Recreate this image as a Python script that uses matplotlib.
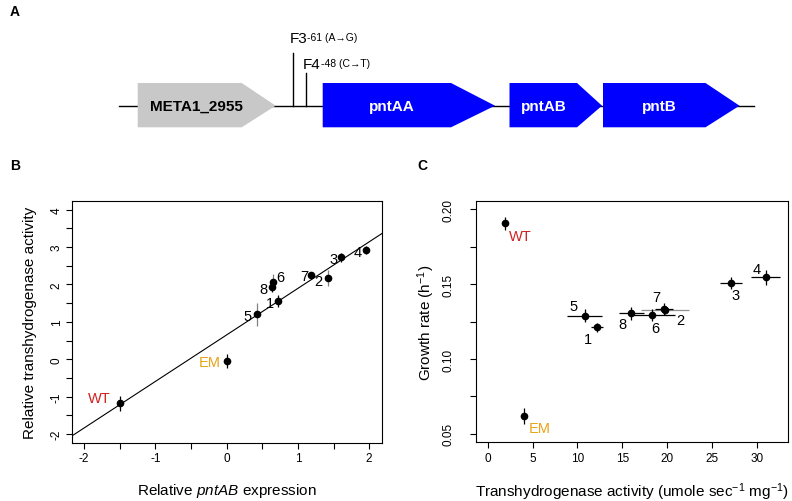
import matplotlib
matplotlib.use("Agg")
import matplotlib.pyplot as plt
from matplotlib.patches import Polygon

plt.rcParams['font.family'] = ['Liberation Sans', 'DejaVu Sans']
plt.rcParams['mathtext.fontset'] = 'custom'
plt.rcParams['mathtext.rm'] = 'Liberation Sans'
plt.rcParams['mathtext.it'] = 'Liberation Sans:italic'
plt.rcParams['mathtext.bf'] = 'Liberation Sans:bold'
plt.rcParams['axes.unicode_minus'] = False

# ---------------- data ----------------
# Panel A: gene map (pixel layout of the schematic)
gene_names = ["META1_2955", "pntAA", "pntAB", "pntB"]
gene_start = [137.7, 322.7, 509.5, 603.0]
gene_shoulder = [241.7, 451.0, 577.0, 705.5]
gene_end = [275.7, 495.0, 602.0, 739.5]
gene_label_x = [196.0, 391.5, 543.7, 659.6]
gene_colors = ["#c8c8c8", "#0000ff", "#0000ff", "#0000ff"]
gene_text_colors = ["black", "white", "white", "white"]
mut_names = ["F3", "F4"]
mut_sup = ["-61 (A\u2192G)", "-48 (C\u2192T)"]
mut_x = [292.7, 306.0]

# Panel B/C strains
strains = ["WT", "EM", "1", "2", "3", "4", "5", "6", "7", "8"]
rel_expr = [-1.5, 0.0, 0.715, 1.42, 1.60, 1.95, 0.42, 0.655, 1.19, 0.633]
rel_act = [-1.18, -0.05, 1.55, 2.17, 2.72, 2.92, 1.20, 2.07, 2.24, 1.93]
rel_act_err = [0.20, 0.19, 0.16, 0.22, 0.13, 0.10, 0.31, 0.22, 0.07, 0.13]
fit_intercept = 0.65
fit_slope = 1.244

act = [1.9, 4.1, 12.2, 19.8, 27.1, 31.0, 10.8, 18.35, 19.7, 16.0]
act_err = [0.25, 0.3, 0.7, 2.7, 1.25, 1.6, 2.0, 2.5, 1.0, 1.4]
growth = [0.1905, 0.0618, 0.121, 0.1325, 0.1505, 0.1545, 0.129, 0.1295, 0.1335, 0.1305]
growth_err = [0.0045, 0.0055, 0.003, 0.003, 0.004, 0.005, 0.0045, 0.004, 0.004, 0.0045]

# ---------------- styles ----------------
label_colors = {"WT": "#d02020", "EM": "#e8a317"}
b_err_col = {"5": "#808080", "2": "#808080", "6": "#808080"}
c_err_col = {"2": "#909090"}
b_off = {"WT": ("right", -9, 5), "EM": ("right", -6, -1), "5": ("right", -5, -2),
         "1": ("right", -3.7, -2), "8": ("right", -4.6, -1.7), "6": ("left", 2.7, 4.7),
         "7": ("right", -2.7, -0.7), "2": ("right", -5, -2.7), "3": ("right", -3.4, -2),
         "4": ("right", -4, -1.7)}
c_off = {"WT": ("left", 4.3, -12.4), "EM": ("left", 4, -11.6), "5": ("right", -7, 10),
         "1": ("right", -4.6, -11.7), "8": ("right", -5, -11), "6": ("center", 3, -13.3),
         "7": ("center", -7.8, 11.7), "2": ("left", 10.8, -10), "3": ("center", 5, -12),
         "4": ("center", -9, 8.5)}

W, H = 792, 502
fig = plt.figure(figsize=(W / 100, H / 100), dpi=100)

# ---------------- Panel A ----------------
axA = fig.add_axes([0, 0, 1, 1])
axA.set_xlim(0, W)
axA.set_ylim(H, 0)
axA.axis("off")
base_y, top_y, bot_y = 106.7, 84.0, 128.3
axA.plot([119.3, 753.7], [base_y, base_y], color="black", lw=1.0, zorder=1)
for name, s, sh, e, lx, col, tcol in zip(gene_names, gene_start, gene_shoulder, gene_end,
                                         gene_label_x, gene_colors, gene_text_colors):
    poly = Polygon([[s, top_y], [sh, top_y], [e, base_y], [sh, bot_y], [s, bot_y]],
                   closed=True, facecolor=col, edgecolor="none", zorder=2)
    axA.add_patch(poly)
    axA.text(lx, base_y, name, color=tcol, fontsize=11, fontweight="bold",
             ha="center", va="center", zorder=3)
mut_tops = [54.3, 74.0]
mut_text_y = [43.3, 69.3]
for nm, sp, x, ty, tty in zip(mut_names, mut_sup, mut_x, mut_tops, mut_text_y):
    axA.plot([x, x], [ty, base_y], color="black", lw=1.0, zorder=1)
    t = axA.text(x - 3, tty, nm, fontsize=11, ha="left", va="baseline")
    axA.annotate(sp, xy=(1.0, 0.95), xycoords=t, fontsize=7.5, ha="left", va="top",
                 family=['Liberation Sans', 'DejaVu Sans'])
fig.text(10 / W, 1 - 12 / H, "A", fontsize=10, fontweight="bold", ha="left", va="center")
fig.text(10 / W, 1 - 166 / H, "B", fontsize=10, fontweight="bold", ha="left", va="center")
fig.text(417 / W, 1 - 166 / H, "C", fontsize=10, fontweight="bold", ha="left", va="center")


def style_axes(ax, ypad):
    for sp in ax.spines.values():
        sp.set_linewidth(0.8)
    ax.tick_params(length=4.3, width=0.8, labelsize=8.5, pad=2.5)
    ax.tick_params(axis="y", pad=ypad)
    for lbl in ax.get_yticklabels():
        lbl.set_rotation(90)
        lbl.set_va("center")
        lbl.set_ha("right")


# ---------------- Panel B ----------------
axB = fig.add_axes([72 / W, 1 - 444 / H, (382 - 72) / W, (444 - 202) / H])
axB.set_xlim(-2.17, 2.18)
axB.set_ylim(-2.24, 4.23)
axB.axline((0, fit_intercept), slope=fit_slope, color="black", lw=0.8, zorder=1)
for s, x, y, e in zip(strains, rel_expr, rel_act, rel_act_err):
    axB.errorbar(x, y, yerr=e, fmt="o", ms=4.5, color="black",
                 ecolor=b_err_col.get(s, "black"), elinewidth=0.9, capsize=0, zorder=3)
    ha, dx, dy = b_off[s]
    axB.annotate(s, (x, y), xytext=(dx, dy), textcoords="offset pixels", ha=ha, va="center",
                 fontsize=10.5, color=label_colors.get(s, "black"), zorder=4)
xt = [-2, -1.5, -1, -0.5, 0, 0.5, 1, 1.5, 2]
axB.set_xticks(xt, [str(int(v)) if v == int(v) else "" for v in xt])
yt = [-2, -1.5, -1, -0.5, 0, 0.5, 1, 1.5, 2, 2.5, 3, 3.5, 4]
axB.set_yticks(yt, [str(int(v)) if v == int(v) else "" for v in yt])
axB.set_xlabel(r"Relative $\mathit{pntAB}$ expression", fontsize=11, labelpad=12)
axB.set_ylabel("Relative transhydrogenase activity", fontsize=11, labelpad=10)
style_axes(axB, 2.5)

# ---------------- Panel C ----------------
axC = fig.add_axes([476 / W, 1 - 443.3 / H, (787.7 - 476) / W, (443.3 - 201.7) / H])
axC.set_xlim(-1.3, 33.45)
axC.set_ylim(0.0444, 0.2056)
for s, x, y, xe, ye in zip(strains, act, growth, act_err, growth_err):
    axC.errorbar(x, y, xerr=xe, yerr=ye, fmt="o", ms=4.5, color="black",
                 ecolor=c_err_col.get(s, "black"), elinewidth=0.9, capsize=0, zorder=3)
    ha, dx, dy = c_off[s]
    axC.annotate(s, (x, y), xytext=(dx, dy), textcoords="offset pixels", ha=ha, va="center",
                 fontsize=10.5, color=label_colors.get(s, "black"), zorder=4)
axC.set_xticks([0, 5, 10, 15, 20, 25, 30], ["0", "5", "10", "15", "20", "25", "30"])
ytc = [0.05, 0.075, 0.10, 0.125, 0.15, 0.175, 0.20]
axC.set_yticks(ytc, ["0.05", "", "0.10", "", "0.15", "", "0.20"])
axC.set_xlabel(r"Transhydrogenase activity (umole sec$^{\mathregular{-1}}$ mg$^{\mathregular{-1}}$)",
               fontsize=11, labelpad=12)
axC.set_ylabel(r"Growth rate (h$^{\mathregular{-1}}$)", fontsize=11, labelpad=4)
style_axes(axC, 11)

fig.savefig("out.png", dpi=100)
